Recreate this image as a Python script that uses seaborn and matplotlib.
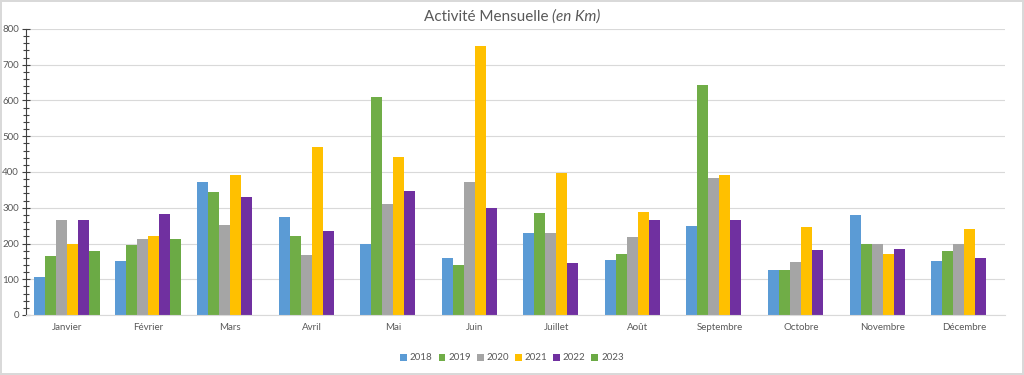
import numpy as np
import pandas as pd
import matplotlib
matplotlib.use("Agg")
import matplotlib.pyplot as plt
import seaborn as sns
from matplotlib.ticker import MultipleLocator

months = ["Janvier", "Février", "Mars", "Avril", "Mai", "Juin", "Juillet",
          "Août", "Septembre", "Octobre", "Novembre", "Décembre"]
years = ["2018", "2019", "2020", "2021", "2022", "2023"]

v2018 = [105, 150, 372, 273, 198, 160, 229, 155, 248, 125, 280, 150]
v2019 = [165, 195, 343, 222, 610, 140, 284, 171, 643, 125, 200, 178]
v2020 = [265, 212, 252, 168, 310, 372, 230, 219, 383, 147, 199, 200]
v2021 = [200, 222, 393, 470, 443, 752, 396, 288, 393, 245, 172, 240]
v2022 = [265, 282, 330, 235, 346, 298, 145, 266, 266, 183, 185, 160]
v2023 = [180, 212, None, None, None, None, None, None, None, None, None, None]

colors = ["#5B9BD5", "#70AD47", "#A5A5A5", "#FFC000", "#7030A0", "#6BAA45"]

series = [v2018, v2019, v2020, v2021, v2022, v2023]
rows = []
for y, vals in zip(years, series):
    for m, v in zip(months, vals):
        if v is not None:
            rows.append({"Mois": m, "Année": y, "Km": v})
df = pd.DataFrame(rows)

sns.set_theme(style="white")
plt.rcParams["font.family"] = ["Lato", "DejaVu Sans"]

fig = plt.figure(figsize=(10.24, 3.75), dpi=100)
ax = fig.add_axes([26 / 1024, 1 - 315 / 375, (1005 - 26) / 1024, (315 - 29) / 375])

sns.barplot(data=df, x="Mois", y="Km", hue="Année", order=months, hue_order=years,
            palette=colors, saturation=1, errorbar=None, width=0.81, ax=ax,
            legend=True, linewidth=0, edgecolor="none")

ax.set_ylim(0, 800)
ax.set_xlim(-0.5, 11.5)
ax.yaxis.set_major_locator(MultipleLocator(100))
ax.yaxis.set_minor_locator(MultipleLocator(20))
ax.grid(axis="y", which="major", color="#D9D9D9", linewidth=0.8)
ax.set_axisbelow(True)
ax.set_xlabel("")
ax.set_ylabel("")

for s in ["top", "right"]:
    ax.spines[s].set_visible(False)
ax.spines["bottom"].set_color("#D9D9D9")
ax.spines["bottom"].set_linewidth(0.8)
ax.spines["left"].set_color("#404040")
ax.spines["left"].set_linewidth(0.8)

ax.tick_params(axis="y", which="major", direction="inout", length=6, width=0.8,
               color="#404040", labelsize=7, labelcolor="#595959", pad=2, left=True)
ax.tick_params(axis="y", which="minor", direction="inout", length=5, width=0.8,
               color="#404040", left=True)
ax.tick_params(axis="x", which="both", length=0, labelsize=7, labelcolor="#595959", pad=6)

handles, labels = ax.get_legend_handles_labels()
ax.legend_.remove()
fig.legend(handles, labels, loc="center", bbox_to_anchor=(0.5, 1 - 358 / 375), ncol=6,
           frameon=False, fontsize=7, labelcolor="#595959", handlelength=0.7,
           handleheight=0.7, handletextpad=0.3, columnspacing=0.6)

# Title: normal part + italic part
fig.canvas.draw()
renderer = fig.canvas.get_renderer()
t1 = fig.text(0, 1 - 17 / 375, "Activité Mensuelle ", fontsize=11, color="#595959",
              ha="left", va="center")
t2 = fig.text(0, 1 - 17 / 375, "(en Km)", fontsize=11, color="#595959",
              style="italic", ha="left", va="center")
w1 = t1.get_window_extent(renderer).width
w2 = t2.get_window_extent(renderer).width
x0 = (1024 / 2 - (w1 + w2) / 2) / 1024
t1.set_x(x0)
t2.set_x(x0 + w1 / 1024)

fig.patch.set_edgecolor("#D9D9D9")
fig.patch.set_linewidth(1.5)

fig.savefig("out.png", dpi=100, facecolor="white", edgecolor=fig.get_edgecolor())
